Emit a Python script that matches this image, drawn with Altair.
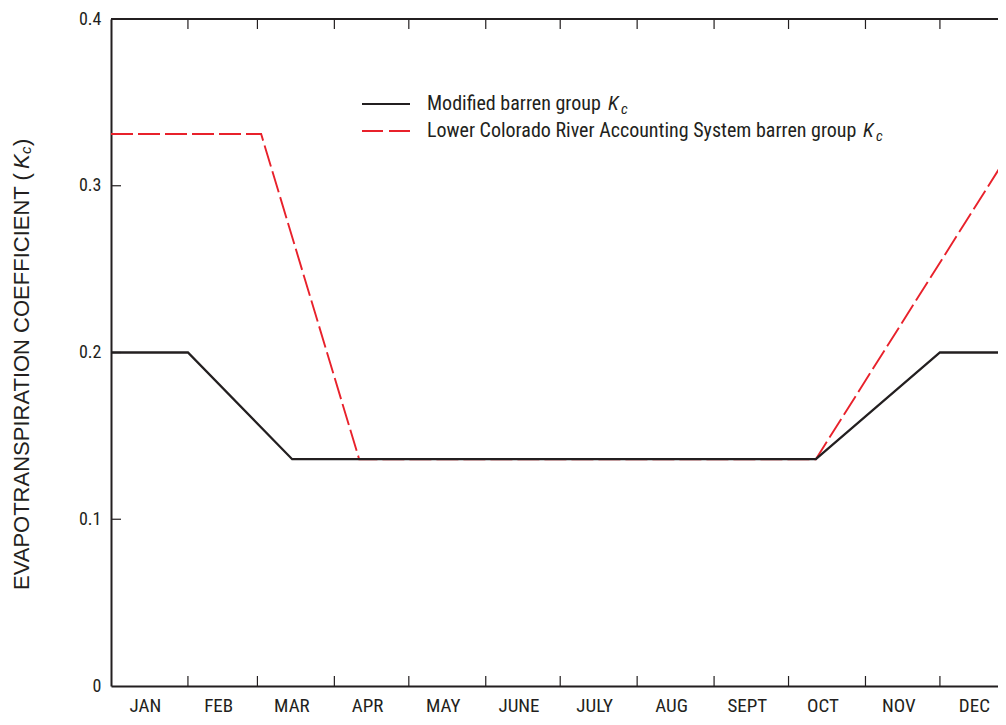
import altair as alt
import pandas as pd

# ---- data (day of year, Kc) ----
mod_days = [0, 31, 73, 284, 334, 365]
mod_kc = [0.2, 0.2, 0.136, 0.136, 0.2, 0.2]
lcr_days = [0, 60.5, 100, 284, 365]
lcr_kc = [0.331, 0.331, 0.136, 0.136, 0.327]

month_names = ["JAN", "FEB", "MAR", "APR", "MAY", "JUNE", "JULY", "AUG", "SEPT", "OCT", "NOV", "DEC"]
month_starts = [0, 31, 59, 90, 120, 151, 181, 212, 243, 273, 304, 334, 365]
y_ticks = [0, 0.1, 0.2, 0.3, 0.4]

W, H = 887, 667
XMAX = 357.4
FONT = "Liberation Sans Narrow, Roboto Condensed, DejaVu Sans Condensed, sans-serif"
TFONT = "Liberation Sans, Arial, sans-serif"
AX = "#231f20"
RED = "#e8212b"

mod_df = pd.DataFrame({"day": mod_days, "kc": mod_kc})
lcr_df = pd.DataFrame({"day": lcr_days, "kc": lcr_kc})
mid_df = pd.DataFrame({
    "mid": [(month_starts[i] + month_starts[i + 1]) / 2 for i in range(12)],
    "name": month_names,
})
bnd_df = pd.DataFrame({"day": month_starts[1:12]})
yt_df = pd.DataFrame({"v": [0.1, 0.2, 0.3]})

xs = alt.Scale(domain=[0, XMAX], nice=False, zero=False)
ys = alt.Scale(domain=[0, 0.4], nice=False)

x_axis = alt.Axis(title=None, labels=False, ticks=False, grid=False, domain=True,
                  domainColor=AX, domainWidth=2)
y_axis = alt.Axis(title=None, values=y_ticks, ticks=False, grid=False, domain=True,
                  domainColor=AX, domainWidth=2, labelFont=FONT, labelFontSize=18,
                  labelColor=AX, labelPadding=10,
                  labelExpr="datum.value == 0 ? '0' : format(datum.value, '.1f')")

red_line = alt.Chart(lcr_df).mark_line(color=RED, strokeWidth=1.9, strokeDash=[22, 5], clip=True).encode(
    x=alt.X("day:Q", scale=xs, axis=x_axis),
    y=alt.Y("kc:Q", scale=ys, axis=y_axis),
)
black_line = alt.Chart(mod_df).mark_line(color=AX, strokeWidth=2.3, clip=True).encode(
    x=alt.X("day:Q", scale=xs),
    y=alt.Y("kc:Q", scale=ys),
)

top_line = alt.Chart(alt.Data(values=[{}])).mark_rule(color=AX, strokeWidth=2).encode(
    x=alt.value(0), x2=alt.value(W), y=alt.value(0))

bot_ticks = alt.Chart(bnd_df).mark_rule(color=AX, strokeWidth=1.2).encode(
    x=alt.X("day:Q", scale=xs), y=alt.value(H), y2=alt.value(H - 10))
top_ticks = alt.Chart(bnd_df).mark_rule(color=AX, strokeWidth=1.2).encode(
    x=alt.X("day:Q", scale=xs), y=alt.value(0), y2=alt.value(10))
left_ticks = alt.Chart(yt_df).mark_rule(color=AX, strokeWidth=1.2).encode(
    y=alt.Y("v:Q", scale=ys), x=alt.value(0), x2=alt.value(10))

month_labels = alt.Chart(mid_df).mark_text(font=FONT, fontSize=19, color=AX, baseline="middle", dx=-4).encode(
    x=alt.X("mid:Q", scale=xs), y=alt.value(H + 20), text="name:N")

def txt(s, x, y, size=20, style="normal", angle=0, align="left", color=AX, font=FONT):
    return alt.Chart(alt.Data(values=[{"t": s}])).mark_text(
        font=font, fontSize=size, fontStyle=style, color=color, align=align,
        baseline="middle", angle=angle).encode(
        x=alt.value(x), y=alt.value(y), text="t:N")

# legend
leg_y1, leg_y2 = 85, 112
leg = [
    alt.Chart(alt.Data(values=[{}])).mark_rule(color=AX, strokeWidth=2.2).encode(
        x=alt.value(251), x2=alt.value(299), y=alt.value(leg_y1)),
    alt.Chart(alt.Data(values=[{}])).mark_rule(color=RED, strokeWidth=1.9, strokeDash=[21, 6]).encode(
        x=alt.value(251), x2=alt.value(299), y=alt.value(leg_y2)),
    txt("Modified barren group", 316, leg_y1),
    txt("K", 497, leg_y1, style="italic"),
    txt("c", 510, leg_y1 + 5, size=15, style="italic"),
    txt("Lower Colorado River Accounting System barren group", 316, leg_y2),
    txt("K", 752, leg_y2, style="italic"),
    txt("c", 765, leg_y2 + 5, size=15, style="italic"),
]

# y title (rotated)
tx = -89
ytitle = [
    txt("EVAPOTRANSPIRATION COEFFICIENT (", tx, 571, size=22, angle=270, font=TFONT),
    txt("K", tx, 150, size=22, style="italic", angle=270, font=TFONT),
    txt("c", tx + 4, 135, size=15, style="italic", angle=270, font=TFONT),
    txt(")", tx, 127, size=22, angle=270, font=TFONT),
]

chart = alt.layer(
    red_line, black_line, top_line, bot_ticks, top_ticks, left_ticks,
    month_labels, *leg, *ytitle
).properties(
    width=W, height=H,
    autosize=alt.AutoSizeParams(type="none"),
    padding={"left": 103, "top": 11, "right": 0, "bottom": 31},
    background="white",
).configure_view(stroke=None)

chart.save("out.html", embed_options={"renderer": "svg", "actions": False})
